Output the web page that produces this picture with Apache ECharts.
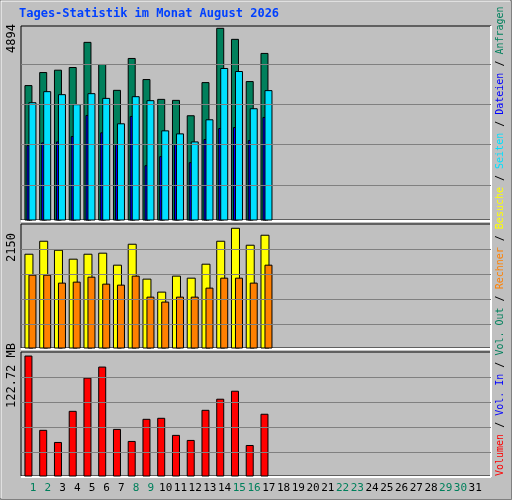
<!DOCTYPE html>
<html><head><meta charset="utf-8">
<script src="https://cdn.jsdelivr.net/npm/echarts@6/dist/echarts.min.js"></script>
<style>html,body{margin:0;padding:0;background:#c0c0c0}#c{width:512px;height:500px}</style>
</head><body><div id="c"></div>
<script>
const days = Array.from({length:31},(_,i)=>String(i+1));
const weekend = [1,2,8,9,15,16,22,23,29,30];
const anfragen = [3391,3720,3779,3847,4481,3923,3271,4075,3543,3043,3018,2630,3466,4836,4557,3492,4202];
const dateien  = [2959,3238,3162,2909,3187,3068,2427,3111,3010,2249,2173,1970,2528,3822,3746,2807,3264];
const seiten   = [1877,1945,1970,2105,2637,2199,1902,2612,1369,1598,1902,1446,2029,2308,2333,2003,2587];
const besuche  = [1626,1851,1695,1540,1626,1644,1436,1799,1194,969,1246,1211,1453,1851,2076,1782,1955];
const rechner  = [1263,1263,1125,1142,1228,1107,1090,1246,882,796,882,882,1038,1211,1211,1125,1436];
const volumen  = [118.7,45.2,33.2,64.0,96.9,107.8,46.1,34.2,56.1,57.1,40.2,35.2,65.0,76.0,83.9,30.2,61.1];
const maxTop = 4894, maxMid = 2150, maxBot = 122.72;
const gridTop = [887,1902,2916,3930], gridMid = [415,848,1280,1713], gridBot = [23.3,48.1,73.0,98.2];

function barSeries(idx, vals, color, x0, x1, z){
  return {type:'custom', xAxisIndex:idx, yAxisIndex:idx, z:z,
    data: vals.map((v,i)=>[i+1,v]),
    renderItem:(p,api)=>{
      const a=api.coord([api.value(0),0]), b=api.coord([api.value(0),api.value(1)]);
      return {type:'rect', shape:{x:a[0]+x0, y:b[1], width:x1-x0, height:a[1]-b[1]},
        style:{fill:color, stroke:'#000', lineWidth:1}};
    }};
}
function gridLines(idx, vals){
  return {type:'line', xAxisIndex:idx, yAxisIndex:idx, data:[], z:1,
    markLine:{silent:true, symbol:'none', label:{show:false},
      lineStyle:{color:'#808080', type:'solid', width:1},
      data: vals.map(v=>({yAxis:v}))}};
}
const grids=[{left:21,width:470,top:26,height:194},{left:21,width:470,top:224,height:124},{left:21,width:470,top:352,height:124}];
const xAxes = grids.map((g,i)=>({type:'value', gridIndex:i, min:0.19, max:32.05,
  axisLine:{show:false}, axisTick:{show:false}, splitLine:{show:false},
  axisLabel:{show:false}}));
xAxes.push({type:'category', gridIndex:3, data:days, position:'bottom', boundaryGap:true,
  axisLine:{show:false}, axisTick:{show:false}, splitLine:{show:false},
  axisLabel:{show:true, interval:0, margin:7, fontFamily:'DejaVu Sans Mono', fontSize:11,
    color:(v)=>weekend.includes(+v)?'#00805C':'#000'}});
const yMax=[maxTop,maxMid,maxBot];
const yAxes = grids.map((g,i)=>({type:'value', gridIndex:i, min:0, max:yMax[i],
  axisLine:{show:false}, axisTick:{show:false}, splitLine:{show:false}, axisLabel:{show:false}}));
yAxes.push({type:'value', gridIndex:3, show:false});
const ch = echarts.init(document.getElementById('c'));
const allGrids = grids.map(g=>Object.assign({show:true, borderColor:'#000', borderWidth:1, backgroundColor:'transparent'},g));
allGrids.push({show:false, left:25.6, width:457, top:352, height:124});
ch.setOption({
  backgroundColor:'#c0c0c0', animation:false,
  grid: allGrids,
  xAxis:xAxes, yAxis:yAxes,
  series:[
    gridLines(0,gridTop), gridLines(1,gridMid), gridLines(2,gridBot),
    barSeries(0,anfragen,'#00805C',-8,-1,2),
    barSeries(0,seiten,'#0000FF',-6,-3,3),
    barSeries(0,dateien,'#00E0FF',-4,3,4),
    barSeries(1,besuche,'#FFFF00',-8,0,2),
    barSeries(1,rechner,'#FF8000',-4,3,3),
    barSeries(2,volumen,'#FF0000',-8,-1,2),
    {type:'line', xAxisIndex:3, yAxisIndex:3, data:[]}
  ],
  graphic:[
    {type:'rect', shape:{x:0.5,y:0.5,width:511,height:499}, style:{fill:'none', stroke:'#808080', lineWidth:1}},
    {type:'line', shape:{x1:1,y1:1,x2:510,y2:1}, style:{stroke:'#fff'}},
    {type:'line', shape:{x1:1,y1:1,x2:1,y2:498}, style:{stroke:'#fff'}},
    {type:'line', shape:{x1:21,y1:221,x2:491,y2:221}, style:{stroke:'#fff',lineWidth:2}},
    {type:'line', shape:{x1:21,y1:349,x2:491,y2:349}, style:{stroke:'#fff',lineWidth:2}},
    {type:'line', shape:{x1:21,y1:477,x2:491,y2:477}, style:{stroke:'#fff',lineWidth:2}},
    {type:'line', shape:{x1:491,y1:26,x2:491,y2:477}, style:{stroke:'#fff',lineWidth:2}},
    {type:'text', left:19, top:8, style:{text:'Tages-Statistik im Monat August 2026', fill:'#0040FF', font:'bold 12px "DejaVu Sans Mono"'}},
    {type:'text', x:12, y:53, rotation:Math.PI/2, style:{text:'4894', fill:'#000', font:'12px "DejaVu Sans Mono"', textAlign:'left', verticalAlign:'middle'}},
    {type:'text', x:12, y:262, rotation:Math.PI/2, style:{text:'2150', fill:'#000', font:'12px "DejaVu Sans Mono"', textAlign:'left', verticalAlign:'middle'}},
    {type:'text', x:12, y:408, rotation:Math.PI/2, style:{text:'122.72 MB', fill:'#000', font:'12px "DejaVu Sans Mono"', textAlign:'left', verticalAlign:'middle'}},
    {type:'text', x:500, y:476, rotation:Math.PI/2, style:{
      text:'{r|Volumen} / {b|Vol. In} / {g|Vol. Out} / {o|Rechner} / {y|Besuche} / {c|Seiten} / {b|Dateien} / {g|Anfragen}',
      fill:'#000', font:'10px "DejaVu Sans Mono"', textAlign:'left', verticalAlign:'middle',
      rich:{r:{fill:'#FF0000',font:'10px "DejaVu Sans Mono"'},b:{fill:'#0000FF',font:'10px "DejaVu Sans Mono"'},g:{fill:'#00805C',font:'10px "DejaVu Sans Mono"'},o:{fill:'#FF8000',font:'10px "DejaVu Sans Mono"'},y:{fill:'#FFFF00',font:'10px "DejaVu Sans Mono"'},c:{fill:'#00E0FF',font:'10px "DejaVu Sans Mono"'}}}}
  ]
});
</script></body></html>
